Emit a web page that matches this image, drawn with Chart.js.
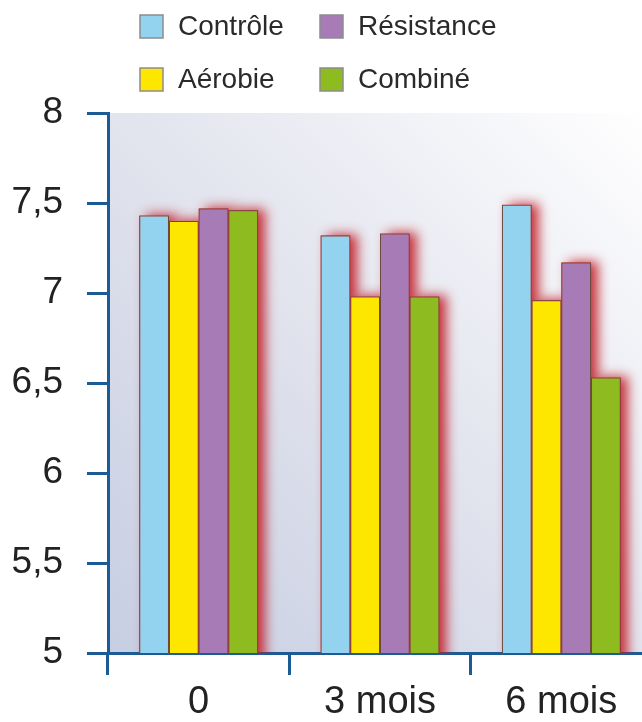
<!DOCTYPE html>
<html lang="fr">
<head>
<meta charset="utf-8">
<title>Évolution selon le programme d'exercice</title>
<script src="https://cdn.jsdelivr.net/npm/chart.js@4/dist/chart.umd.min.js"></script>
<style>
  html, body { margin: 0; padding: 0; background: #ffffff; overflow: hidden; }
  #wrap { width: 642px; height: 722px; overflow: hidden; position: relative; }
  canvas { display: block; position: absolute; left: 0; top: 0; }
</style>
</head>
<body>
<div id="wrap"><canvas id="c" width="652" height="722"></canvas></div>
<script>
// Catégories (temps de mesure) et valeurs par groupe
const categories = ['0', '3 mois', '6 mois'];
const controle   = [7.43, 7.32, 7.49];
const aerobie    = [7.40, 6.98, 6.96];
const resistance = [7.47, 7.33, 7.17];
const combine    = [7.46, 6.98, 6.53];

// Graduations de l'axe vertical
const yTicks = [5, 5.5, 6, 6.5, 7, 7.5, 8];

const seriesNames = ['Contrôle', 'Aérobie', 'Résistance', 'Combiné'];
const colors = ['#94d3ef', '#fde700', '#a77cb6', '#8ebb1f'];

const AXIS_BLUE = '#1b5c97';
const AXIS_FONT = '"Liberation Sans", Arial, sans-serif';
const LEGEND_FONT = '"Liberation Sans", Arial, sans-serif';

// Fond dégradé de la zone de tracé
const plotBackground = {
  id: 'plotBackground',
  beforeDraw(chart) {
    const { ctx, chartArea: a } = chart;
    const g = ctx.createLinearGradient(a.left, a.bottom, a.right, a.top);
    g.addColorStop(0, '#c6cee2');
    g.addColorStop(0.45, '#dfe1ec');
    g.addColorStop(1, '#ffffff');
    ctx.save();
    ctx.fillStyle = g;
    ctx.fillRect(a.left, a.top, a.right - a.left, a.bottom - a.top);
    ctx.restore();
  }
};

// Ombre rouge portée derrière les barres
const barShadow = {
  id: 'barShadow',
  beforeDatasetsDraw(chart) {
    const { ctx } = chart;
    ctx.save();
    ctx.beginPath();
    const a = chart.chartArea;
    ctx.rect(a.left + 2, a.top - 20, a.right - a.left, a.bottom - a.top + 20);
    ctx.clip();
    ctx.shadowColor = 'rgba(195, 30, 40, 0.9)';
    ctx.shadowBlur = 12;
    ctx.shadowOffsetX = 7;
    ctx.shadowOffsetY = -1;
    ctx.fillStyle = 'rgba(185, 55, 60, 1)';
    chart.data.datasets.forEach((ds, i) => {
      const meta = chart.getDatasetMeta(i);
      meta.data.forEach(bar => {
        const p = bar.getProps(['x', 'y', 'base', 'width'], true);
        ctx.fillRect(p.x - p.width / 2, p.y, p.width, p.base - p.y);
      });
    });
    ctx.restore();
  }
};

// Légende en grille 2 x 2 au-dessus du graphique
const gridLegend = {
  id: 'gridLegend',
  afterDraw(chart) {
    const { ctx } = chart;
    const order = [0, 2, 1, 3];
    const colX = [140, 320];
    const rowY = [26, 79];
    ctx.save();
    ctx.font = '28px ' + LEGEND_FONT;
    ctx.textBaseline = 'middle';
    ctx.textAlign = 'left';
    order.forEach((idx, k) => {
      const x = colX[k % 2];
      const y = rowY[Math.floor(k / 2)];
      ctx.fillStyle = colors[idx];
      ctx.fillRect(x, y - 11, 23, 23);
      ctx.strokeStyle = '#8c8c8c';
      ctx.lineWidth = 1.5;
      ctx.strokeRect(x, y - 11, 23, 23);
      ctx.fillStyle = '#2a2a2a';
      ctx.fillText(chart.data.datasets[idx].label, x + 38, y + 1);
    });
    ctx.restore();
  }
};

const datasets = [controle, aerobie, resistance, combine].map((values, i) => ({
  label: seriesNames[i],
  data: values,
  backgroundColor: colors[i],
  borderColor: '#6e4a3e',
  borderWidth: 1,
  categoryPercentage: 0.655,
  barPercentage: 1.0
}));

new Chart(document.getElementById('c'), {
  type: 'bar',
  data: { labels: categories, datasets },
  plugins: [plotBackground, barShadow, gridLegend],
  options: {
    responsive: false,
    animation: false,
    layout: { padding: { top: 113, right: 0, bottom: 0, left: 0 } },
    plugins: { legend: { display: false }, tooltip: { enabled: false } },
    scales: {
      x: {
        grid: {
          offset: true,
          drawOnChartArea: false,
          drawTicks: true,
          tickLength: 22,
          tickWidth: 3,
          tickColor: AXIS_BLUE
        },
        border: { display: true, color: AXIS_BLUE, width: 3 },
        ticks: {
          color: '#222222',
          padding: 5,
          font: { family: AXIS_FONT, size: 38 }
        },
        afterFit(scale) { scale.height = 69; }
      },
      y: {
        min: 5,
        max: 8,
        afterBuildTicks(scale) { scale.ticks = yTicks.map(v => ({ value: v })); },
        grid: {
          drawOnChartArea: false,
          drawTicks: true,
          tickLength: 21,
          tickWidth: 3,
          tickColor: AXIS_BLUE
        },
        border: { display: true, color: AXIS_BLUE, width: 3 },
        ticks: {
          color: '#222222',
          padding: 24,
          font: { family: AXIS_FONT, size: 37 },
          callback: v => String(v).replace('.', ',')
        },
        afterFit(scale) { scale.width = 108; }
      }
    }
  }
});
</script>
</body>
</html>
